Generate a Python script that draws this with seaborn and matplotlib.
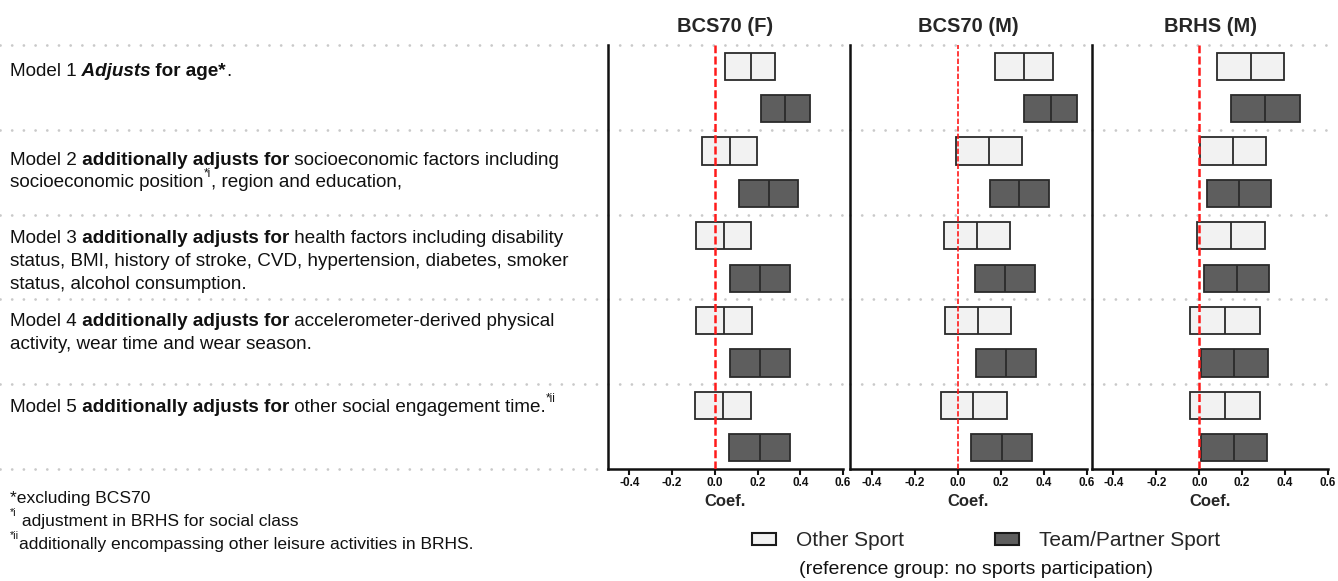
import matplotlib
matplotlib.use("Agg")
import matplotlib.pyplot as plt
from matplotlib.patches import Patch
import pandas as pd
import seaborn as sns

# -- Data: (lower CI, coefficient, upper CI) per model ------------------------

models = ["Model 1", "Model 2", "Model 3", "Model 4", "Model 5"]
cohorts = ["BCS70 (F)", "BCS70 (M)", "BRHS (M)"]
sports = ["Other Sport", "Team/Partner Sport"]

bcs70_f_other = [(0.050, 0.169, 0.281), (-0.059, 0.069, 0.197), (-0.090, 0.041, 0.169),
                 (-0.086, 0.044, 0.173), (-0.094, 0.039, 0.170)]
bcs70_f_team = [(0.214, 0.329, 0.445), (0.114, 0.253, 0.389), (0.069, 0.211, 0.350),
                (0.070, 0.212, 0.350), (0.067, 0.211, 0.350)]
bcs70_m_other = [(0.174, 0.309, 0.443), (-0.008, 0.144, 0.296), (-0.062, 0.090, 0.242),
                 (-0.057, 0.095, 0.248), (-0.079, 0.073, 0.228)]
bcs70_m_team = [(0.307, 0.433, 0.552), (0.149, 0.285, 0.422), (0.079, 0.220, 0.358),
                (0.084, 0.225, 0.364), (0.062, 0.205, 0.346)]
brhs_m_other = [(0.084, 0.240, 0.395), (0.003, 0.157, 0.312), (-0.012, 0.147, 0.307),
                (-0.043, 0.121, 0.282), (-0.045, 0.119, 0.282)]
brhs_m_team = [(0.147, 0.307, 0.468), (0.034, 0.186, 0.335), (0.020, 0.175, 0.327),
               (0.009, 0.164, 0.319), (0.006, 0.163, 0.318)]

tick_values = [-0.4, -0.2, 0.0, 0.2, 0.4, 0.6]
tick_labels = ["-0.4", "-0.2", "0.0", "0.2", "0.4", "0.6"]

# left-hand description, one entry per printed line: (baseline px, segments)
model_lines = [
    (76, [("Model 1", "n"), (" Adjusts", "bi"), (" for age*", "b"), (".", "n")]),
    (165, [("Model 2", "n"), (" additionally adjusts for", "b"), (" socioeconomic factors including", "n")]),
    (187, [("socioeconomic position", "n"), ("*i", "sup"), (", region and education,", "n")]),
    (243, [("Model 3", "n"), (" additionally adjusts for", "b"), (" health factors including disability", "n")]),
    (266, [("status, BMI, history of stroke, CVD, hypertension, diabetes, smoker", "n")]),
    (289, [("status, alcohol consumption.", "n")]),
    (326, [("Model 4", "n"), (" additionally adjusts for", "b"), (" accelerometer-derived physical", "n")]),
    (349, [("activity, wear time and wear season.", "n")]),
    (412, [("Model 5", "n"), (" additionally adjusts for", "b"), (" other social engagement time.", "n"), ("*ii", "sup")]),
]
footnote_lines = [
    (503, [("*excluding BCS70", "n")]),
    (526, [("*i", "sup"), (" adjustment in BRHS for social class", "n")]),
    (549, [("*ii", "sup"), ("additionally encompassing other leisure activities in BRHS.", "n")]),
]

OTHER_COLOR = "#f2f2f2"
TEAM_COLOR = "#5e5e5e"
W, H = 1338, 581


def to_long(other, team):
    """Five points per row whose quartiles fall on lo / est / hi -> box = CI, median = estimate."""
    rows = []
    for sport, series in zip(sports, (other, team)):
        for model, (lo, est, hi) in zip(models, series):
            for v in (lo, lo, est, hi, hi):
                rows.append({"model": model, "sport": sport, "coef": v})
    return pd.DataFrame(rows)


def draw_line(ax, x, y, segments, size):
    """Chain text pieces on a shared baseline (mixed bold / italic / superscript)."""
    prev = None
    for text, style in segments:
        kw = dict(fontsize=size, va="baseline", ha="left", color="#111111")
        yy = y
        if style == "sup":
            kw["fontsize"] = size * 0.62
            yy = y - size * 0.55 * 1.389
        if style in ("b", "bi"):
            kw["fontweight"] = "bold"
        if style == "bi":
            kw["fontstyle"] = "italic"
        if prev is None:
            prev = ax.annotate(text, xy=(x, yy), xycoords="data", **kw)
        else:
            prev = ax.annotate(text, xy=(1, yy), xycoords=(prev, "data"), **kw)


sns.set_theme(style="white")
plt.rcParams["font.family"] = ["Liberation Sans", "DejaVu Sans"]

fig = plt.figure(figsize=(W / 100, H / 100), dpi=100)

bottom = 1 - 469 / H
height = (469 - 45) / H
panel_px = [(608, 843), (850, 1087), (1092, 1328)]
panel_data = [(bcs70_f_other, bcs70_f_team), (bcs70_m_other, bcs70_m_team), (brhs_m_other, brhs_m_team)]
red_lw = [1.8, 1.2, 1.8]

dot_kw = dict(color="#c9c9c9", lw=2.0, ls=(0, (0.01, 4.2)), dash_capstyle="round", clip_on=False, zorder=0)

for (x0, x1), (other, team), cohort, rlw in zip(panel_px, panel_data, cohorts, red_lw):
    ax = fig.add_axes([x0 / W, bottom, (x1 - x0) / W, height])
    df = to_long(other, team)
    sns.boxplot(data=df, x="coef", y="model", hue="sport", ax=ax,
                palette={sports[0]: OTHER_COLOR, sports[1]: TEAM_COLOR},
                saturation=1, width=1.0, gap=0.36, whis=0, showcaps=False,
                fliersize=0, linecolor="#2a2a2a", linewidth=1.3, legend=False)
    for yb in [-0.5, 0.5, 1.5, 2.5, 3.5]:
        ax.axhline(yb, **dot_kw)
    ax.axvline(0, color="#ff1a1a", lw=rlw, ls=(0, (3.2, 1.3)), zorder=5)
    ax.set_xlim(-0.5, 0.6)
    ax.set_ylim(4.5, -0.5)
    ax.set_xticks(tick_values)
    ax.set_xticklabels(tick_labels, fontweight="bold")
    ax.tick_params(axis="x", labelsize=8.5, length=4, width=1.5, direction="out",
                   pad=2, bottom=True, colors="#111111")
    ax.set_yticks([])
    ax.set_ylabel("")
    ax.set_xlabel("Coef.", fontsize=12, fontweight="bold", labelpad=3)
    ax.set_title(cohort, fontsize=14.5, fontweight="bold", pad=9)
    sns.despine(ax=ax)
    for side in ("left", "bottom"):
        ax.spines[side].set_linewidth(1.8)
        ax.spines[side].set_color("#111111")

# dotted row separators across the description column
ax_left = fig.add_axes([0, bottom, 608 / W, height])
ax_left.set_xlim(0, 1)
ax_left.set_ylim(4.5, -0.5)
ax_left.axis("off")
for yb in [-0.5, 0.5, 1.5, 2.5, 3.5, 4.5]:
    ax_left.axhline(yb, **dot_kw)

# text layer in pixel coordinates
ax_txt = fig.add_axes([0, 0, 1, 1])
ax_txt.set_xlim(0, W)
ax_txt.set_ylim(H, 0)
ax_txt.axis("off")
for y, segs in model_lines:
    draw_line(ax_txt, 10, y, segs, 13.6)
for y, segs in footnote_lines:
    draw_line(ax_txt, 10, y, segs, 12.6)

handles = [Patch(facecolor=OTHER_COLOR, edgecolor="#1a1a1a", linewidth=1.5, label=sports[0]),
           Patch(facecolor=TEAM_COLOR, edgecolor="#1a1a1a", linewidth=1.5, label=sports[1])]
fig.legend(handles=handles, loc="center", bbox_to_anchor=(986 / W, 1 - 541 / H), ncol=2,
           frameon=False, fontsize=15, handlelength=1.15, handleheight=0.45,
           handletextpad=0.95, columnspacing=4.4)
fig.text(976 / W, 1 - 569 / H, "(reference group: no sports participation)",
         ha="center", va="center", fontsize=14, color="#111111")

fig.savefig("out.png", dpi=100)
